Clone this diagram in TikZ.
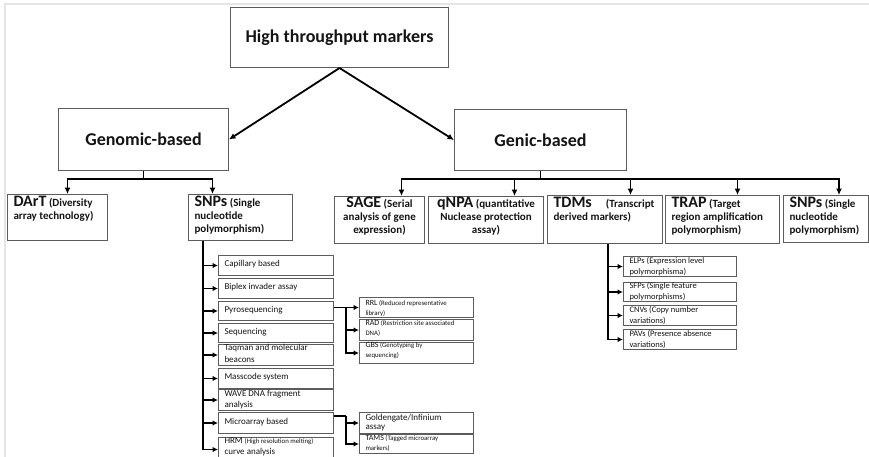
\documentclass[tikz,border=0pt]{standalone}
\usepackage{fontspec}
\setmainfont{Carlito}
\usetikzlibrary{arrows.meta}

\definecolor{frame}{gray}{0.36}
\definecolor{edgegray}{gray}{0.9}

% font sizes
\newcommand\fTitle{\fontsize{18}{21}\selectfont\bfseries}
\newcommand\fHead{\fontsize{16}{18}\selectfont\bfseries}
\newcommand\fNote{\fontsize{11}{13}\selectfont\bfseries}
\newcommand\fItem{\fontsize{9}{11}\selectfont}
\newcommand\fSub{\fontsize{8.5}{11}\selectfont}
\newcommand\fAbbr{\fontsize{8}{10}\selectfont}
\newcommand\fTiny{\fontsize{6.8}{10}\selectfont}
\newcommand\lft{\raggedright\leftskip=6pt\relax}

% a framed cell: name, x, y, width, height, top padding, contents
\newcommand\cellbox[7]{%
  \node[cell] (#1) at (#2,#3)
    {\parbox[t][#5pt][t]{#4pt}{\vspace*{#6pt}#7}};}

\tikzset{
  cell/.style={draw=frame, line width=1pt, inner sep=0pt, anchor=north west, text=black!92},
  title/.style={cell, font=\fTitle},
  link/.style={line width=1.8pt, black},
  arr/.style={link, -{Latex[length=6.5pt,width=6pt]}},
  sarr/.style={line width=1.6pt, black, -{Latex[length=5.5pt,width=5.5pt]}},
}

\begin{document}
\begin{tikzpicture}[x=1pt,y=-1pt]
\clip (0,0) rectangle (869,457);
\fill[white] (0,0) rectangle (869,457);
\draw[edgegray, line width=1.2pt] (5,457) -- (5,4) -- (869,4);

% top levels
\node[title, minimum width=218pt, minimum height=60pt] (top) at (230,7) {High throughput markers};
\node[title, minimum width=170pt, minimum height=62pt] (genomic) at (58,108) {Genomic-based};
\node[title, minimum width=172pt, minimum height=61pt] (genic) at (454,109) {Genic-based};

\draw[arr] (top.south) -- (genomic.east);
\draw[arr] (top.south) -- (genic.west);

% second row
\cellbox{dart}{7}{194}{100}{46}{2}{\lft\fNote {\fHead DArT} (Diversity\\ array technology)}
\cellbox{snpa}{188}{194}{104}{46}{2}{\lft\fNote {\fHead SNPs} (Single\\ nucleotide\\ polymorphism)}
\cellbox{sage}{334}{196}{90}{47}{1}{\centering\fNote {\fHead SAGE} (Serial\\ analysis of gene\\ expression)}
\cellbox{qnpa}{428}{196}{115}{47}{1}{\centering\fNote {\fHead qNPA} (quantitative\\ Nuclease protection\\ assay)}
\cellbox{tdm}{547}{195}{115}{48}{2}{\lft\fNote {\fHead TDMs}\hspace{14pt}(Transcript\\ derived markers)}
\cellbox{trap}{665}{195}{114}{48}{2}{\lft\fNote {\fHead TRAP} (Target\\ region amplification\\ polymorphism)}
\cellbox{snpb}{783}{195}{85}{47}{2}{\lft\fNote {\fHead SNPs} (Single\\ nucleotide\\ polymorphism)}

% genomic branches
\path (genomic.south) ++(0,8) coordinate (gbus);
\draw[link] (genomic.south) -- (gbus);
\draw[arr] (gbus) -| ([xshift=10pt]dart.north);
\draw[arr] (gbus) -| ([xshift=-28pt]snpa.north);

% genic branches
\path (genic.south) ++(0,8) coordinate (cbus);
\draw[link] (genic.south) -- (cbus);
\draw[arr] (cbus) -| ([xshift=22pt]sage.north);
\draw[arr] (cbus) -| ([xshift=28.5pt]qnpa.north);
\draw[arr] (cbus) -| ([xshift=25.5pt]tdm.north);
\draw[arr] (cbus) -| ([xshift=15pt]trap.north);
\draw[arr] (cbus) -| ([xshift=13pt]snpb.north);

% SNP platforms
\cellbox{cap}{218}{255}{115}{20}{5}{\lft\fItem Capillary based}
\cellbox{biplex}{218}{278}{115}{20}{4.5}{\lft\fItem Biplex invader assay}
\cellbox{pyro}{218}{301}{115}{19}{5}{\lft\fItem Pyrosequencing}
\cellbox{seq}{218}{323}{115}{19}{4.5}{\lft\fItem Sequencing}
\cellbox{taq}{218}{344}{115}{21}{0}{\lft\fontsize{9}{12}\selectfont Taqman and molecular\\ beacons}
\cellbox{mass}{218}{368}{115}{20}{5}{\lft\fItem Masscode system}
\cellbox{wave}{218}{389}{115}{21}{1}{\lft\fItem WAVE DNA fragment\\ analysis}
\cellbox{micro}{218}{412}{115}{21}{5.5}{\lft\fItem Microarray based}
\cellbox{hrm}{218}{437}{115}{24}{0}{\lft\fItem HRM {\fTiny (High resolution melting)}\\ curve analysis}

\coordinate (sv) at ([xshift=15pt]snpa.south west);
\draw[sarr] (sv) |- (hrm.west);
\foreach \b in {cap,biplex,pyro,seq,taq,mass,wave,micro}
  \draw[sarr] (\b.west -| sv) -- (\b.west);

% sequencing-based genotyping
\cellbox{rrl}{359}{297}{114}{20}{2.5}{\lft\fTiny{\fAbbr RRL} (Reduced representative\\ library)}
\cellbox{rad}{359}{319}{114}{21}{1}{\lft\fTiny{\fAbbr RAD} (Restriction site associated\\ DNA)}
\cellbox{gbs}{359}{342}{114}{21}{0}{\lft\fTiny{\fAbbr GBS} (Genotyping by\\ sequencing)}

\draw[link, line width=1.6pt] ([yshift=3.5pt]pyro.east) -- ++(12,0) coordinate (pv);
\draw[sarr] (pv) |- (rrl.west);
\draw[sarr] (pv) |- (rad.west);
\draw[sarr] (pv) |- (gbs.west);

% array-based genotyping
\cellbox{gold}{359}{412}{114}{21}{1.5}{\lft\fontsize{9}{9.5}\selectfont Goldengate/Infinium\\ assay}
\cellbox{tams}{359}{434}{114}{19}{0.5}{\lft\fTiny{\fAbbr TAMS} (Tagged microarray\\ markers)}

\draw[link, line width=1.6pt] ([yshift=7pt]micro.east) -- ++(12,0) coordinate (mv);
\draw[sarr] (mv) |- (gold.west);
\draw[sarr] (mv) |- (tams.west);

% transcript derived markers
\cellbox{elp}{623}{256}{113}{20}{0.5}{\lft\fSub ELPs (Expression level\\ polymorphisma)}
\cellbox{sfp}{623}{282}{113}{19}{0}{\lft\fSub SFPs (Single feature\\ polymorphisms)}
\cellbox{cnv}{623}{305}{113}{20}{0.5}{\lft\fSub CNVs (Copy number\\ variations)}
\cellbox{pav}{623}{329}{113}{20}{0.5}{\lft\fSub PAVs (Presence absence\\ variations)}

\coordinate (tv) at ([xshift=61pt]tdm.south west);
\draw[sarr] (tv) |- (pav.west);
\foreach \b in {elp,sfp,cnv}
  \draw[sarr] (\b.west -| tv) -- (\b.west);
\end{tikzpicture}
\end{document}
